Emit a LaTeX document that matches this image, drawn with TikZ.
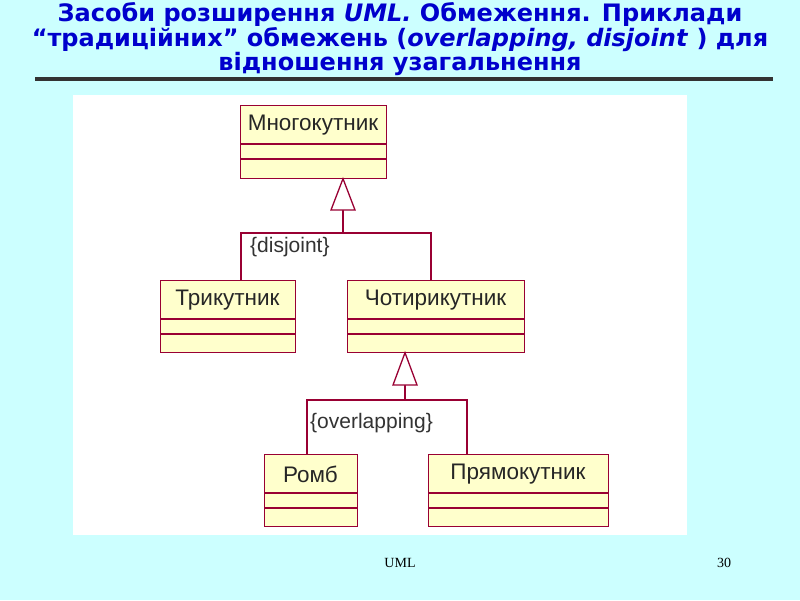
\documentclass[tikz,border=0pt]{standalone}
\usepackage{fontspec}
\setmainfont{Liberation Sans}
\newfontfamily\titlefont{DejaVu Sans}
\newfontfamily\footfont{Liberation Serif}
\usetikzlibrary{arrows.meta}
\definecolor{bg}{HTML}{CCFFFF}
\definecolor{ttl}{HTML}{0000CC}
\definecolor{umlborder}{HTML}{990033}
\definecolor{umlfill}{HTML}{FFFFCC}
\tikzset{
  cls/.style={draw=umlborder,fill=umlfill,line width=1.3pt,inner sep=0pt,anchor=north west},
  nm/.style={font=\fontsize{22.5}{24}\selectfont,text=black!85,inner sep=0pt},
  conn/.style={draw=umlborder,line width=1.3pt},
  gen/.style={draw=umlborder,fill=white,line width=1.3pt,line join=miter},
  lbl/.style={font=\fontsize{21}{23}\selectfont,text=black!80,inner sep=0pt},
  ttlstyle/.style={font=\titlefont\bfseries\fontsize{24}{24}\selectfont,text=ttl,align=center,inner sep=0pt}
}
\newcommand{\umlclass}[6]{% name, x1, y1, x2, y2 , text
  \node[cls,minimum width=#4-#2,minimum height=#5-#3] (#1) at (#2,#3) {};
  \draw[conn] (#2,#3+39) -- (#4,#3+39) (#2,#3+54) -- (#4,#3+54);
  \node[nm] (#1t) at ({(#2+#4)/2},#3+20) {#6};
}
\begin{document}
\begin{tikzpicture}[x=1pt,y=-1pt]
\fill[bg] (0,0) rectangle (800,600);
\useasboundingbox (0,0) rectangle (800,600);
\node[ttlstyle] (title) at (400,39) {Засоби розширення \textit{UML.} Обмеження. Приклади\\
“традиційних” обмежень (\textit{overlapping, disjoint} ) для\\ відношення узагальнення};
\draw[line width=4pt,black!80] (35,79) coordinate (l1) -- (773,79) coordinate (l2);
\fill[white] (73,95) rectangle (687,535);
\umlclass{poly}{240}{105}{386}{178}{Многокутник}
\umlclass{tri}{160}{280}{295}{352}{Трикутник}
\umlclass{quad}{347}{280}{524}{352}{Чотирикутник}
\umlclass{romb}{264}{454}{357}{526}{Ромб}
\umlclass{rect}{428}{454}{608}{526}{Прямокутник}
% generalization 1
\coordinate (j1) at (343,233);
\draw[conn] (241,280) -- (241,233) -- (431,233) -- (431,280);
\draw[conn] (j1) -- (343,210);
\draw[gen] (343,178.7) -- (331,210) -- (355,210) -- cycle;
\node[lbl,anchor=west] (dis) at (250,247) {\{disjoint\}};
% generalization 2
\coordinate (j2) at (405,400);
\draw[conn] (307,454) -- (307,400) -- (467,400) -- (467,454);
\draw[conn] (j2) -- (405,385);
\draw[gen] (405,352.7) -- (393,385) -- (417,385) -- cycle;
\node[lbl,anchor=west] (ovl) at (310,423) {\{overlapping\}};
\node[font=\footfont\fontsize{14}{16}\selectfont,inner sep=0pt] (f1) at (400,563) {UML};
\node[font=\footfont\fontsize{14}{16}\selectfont,inner sep=0pt] (f2) at (724,563) {30};
\end{tikzpicture}
\end{document}
